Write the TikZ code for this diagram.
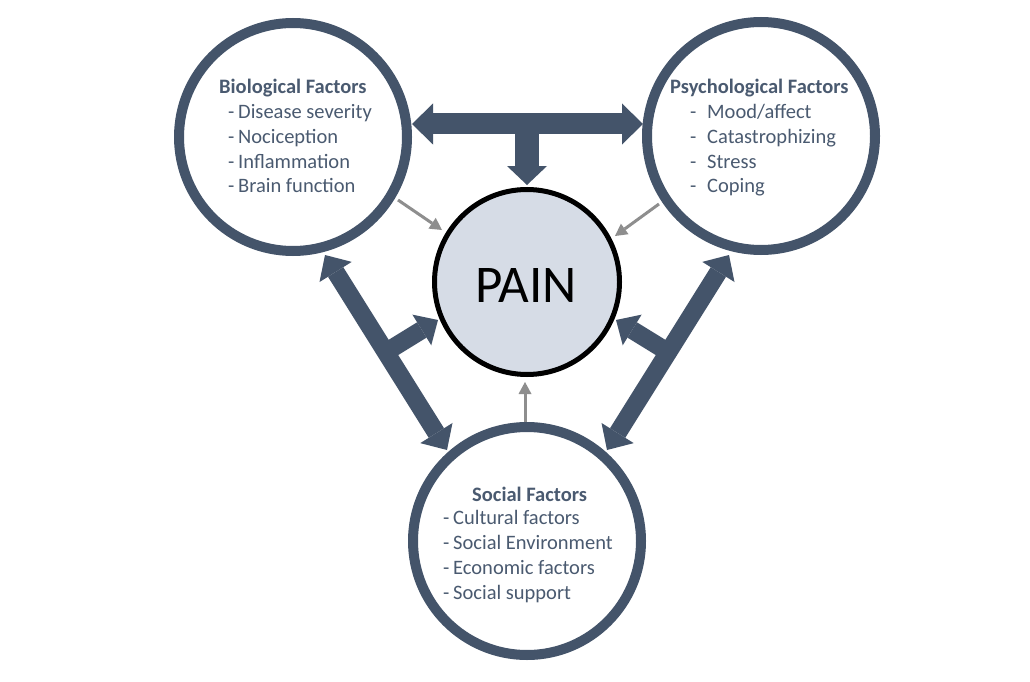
\documentclass[tikz,border=0pt]{standalone}
\usepackage{fontspec}
\setmainfont{Carlito}
\usetikzlibrary{arrows.meta}
\definecolor{slate}{HTML}{44546A}
\definecolor{slatetext}{HTML}{4A5A70}
\definecolor{painfill}{HTML}{D6DCE6}
\definecolor{thingray}{HTML}{8E8E8E}
\tikzset{
  factor/.style={circle, draw=slate, line width=10pt, fill=white, minimum size=228pt, inner sep=0pt},
  painnode/.style={circle, draw=black, line width=5pt, fill=painfill, minimum size=185pt, inner sep=0pt},
  ftitle/.style={anchor=base west, inner sep=0pt, text=slatetext, font=\fontsize{20.5}{24.7}\selectfont\bfseries},
  fitem/.style={anchor=base west, inner sep=0pt, text=slatetext, font=\fontsize{20.5}{24.7}\selectfont},
  bigarrow/.style={draw=slate, line width=#1},
  grayarrow/.style={draw=thingray, line width=3pt, -{Triangle[length=12pt, width=13pt, line width=0pt]}}
}
\begin{document}
\begin{tikzpicture}[x=1pt,y=-1pt]
\useasboundingbox (0,0) rectangle (1030,682);
\fill[white] (0,0) rectangle (1030,682);

% circles
\node[factor] (bio) at (293,137) {};
\node[factor] (psy) at (761,136) {};
\node[factor] (soc) at (527,541) {};
\node[painnode] (pain) at (527,282) {};
\node[anchor=base, inner sep=0pt, font=\fontsize{53}{62}\selectfont] (paintext) at (526,302) {PAIN};

% coordinates for the thick arrows
\coordinate (topL) at (412,124);
\coordinate (topR) at (643,124);
\coordinate (topM) at (527,124);
\coordinate (topT) at (527,185);
\coordinate (leftU) at (325,255);
\coordinate (leftD) at (447,450);
\coordinate (leftM) at (386,352);
\coordinate (leftT) at (438,320);
\coordinate (rightU) at (729,255);
\coordinate (rightD) at (607,450);
\coordinate (rightM) at (668,352);
\coordinate (rightT) at (616,320);

% thick arrows
\draw[bigarrow=21pt, {Triangle[length=21pt, width=41pt, line width=0pt]}-{Triangle[length=21pt, width=41pt, line width=0pt]}] (topL) -- (topR);
\draw[bigarrow=24pt, -{Triangle[length=19pt, width=40pt, line width=0pt]}] (topM) -- (topT);
\draw[bigarrow=18pt, {Triangle[length=20pt, width=38pt, line width=0pt]}-{Triangle[length=20pt, width=38pt, line width=0pt]}] (leftU) -- (leftD);
\draw[bigarrow=18pt, -{Triangle[length=19pt, width=36pt, line width=0pt]}] (leftM) -- (leftT);
\draw[bigarrow=18pt, {Triangle[length=20pt, width=38pt, line width=0pt]}-{Triangle[length=20pt, width=38pt, line width=0pt]}] (rightU) -- (rightD);
\draw[bigarrow=18pt, -{Triangle[length=19pt, width=36pt, line width=0pt]}] (rightM) -- (rightT);

% gray arrows
\coordinate (gbS) at (398,200);
\coordinate (gbE) at (442,230);
\coordinate (gpS) at (659,204);
\coordinate (gpE) at (615,236);
\coordinate (gsS) at (525,422);
\coordinate (gsE) at (525,382);
\draw[grayarrow] (gbS) -- (gbE);
\draw[grayarrow] (gpS) -- (gpE);
\draw[grayarrow] (gsS) -- (gsE);

% biological text
\node[ftitle] (bioT) at (219,94) {Biological Factors};
\node[fitem] (bio1) at (228,119) {\makebox[10pt][l]{-}Disease severity};
\node[fitem] (bio2) at (228,143) {\makebox[10pt][l]{-}Nociception};
\node[fitem] (bio3) at (228,168) {\makebox[10pt][l]{-}Inflammation};
\node[fitem] (bio4) at (228,192) {\makebox[10pt][l]{-}Brain function};

% psychological text
\node[ftitle] (psyT) at (670,94) {Psychological Factors};
\node[fitem] (psy1) at (690,119) {\makebox[17pt][l]{-}Mood/affect};
\node[fitem] (psy2) at (690,143) {\makebox[17pt][l]{-}Catastrophizing};
\node[fitem] (psy3) at (690,168) {\makebox[17pt][l]{-}Stress};
\node[fitem] (psy4) at (690,192) {\makebox[17pt][l]{-}Coping};

% social text
\node[ftitle] (socT) at (472,501) {Social Factors};
\node[fitem] (soc1) at (443,524) {\makebox[10pt][l]{-}Cultural factors};
\node[fitem] (soc2) at (443,549) {\makebox[10pt][l]{-}Social Environment};
\node[fitem] (soc3) at (443,574) {\makebox[10pt][l]{-}Economic factors};
\node[fitem] (soc4) at (443,599) {\makebox[10pt][l]{-}Social support};
\end{tikzpicture}
\end{document}
